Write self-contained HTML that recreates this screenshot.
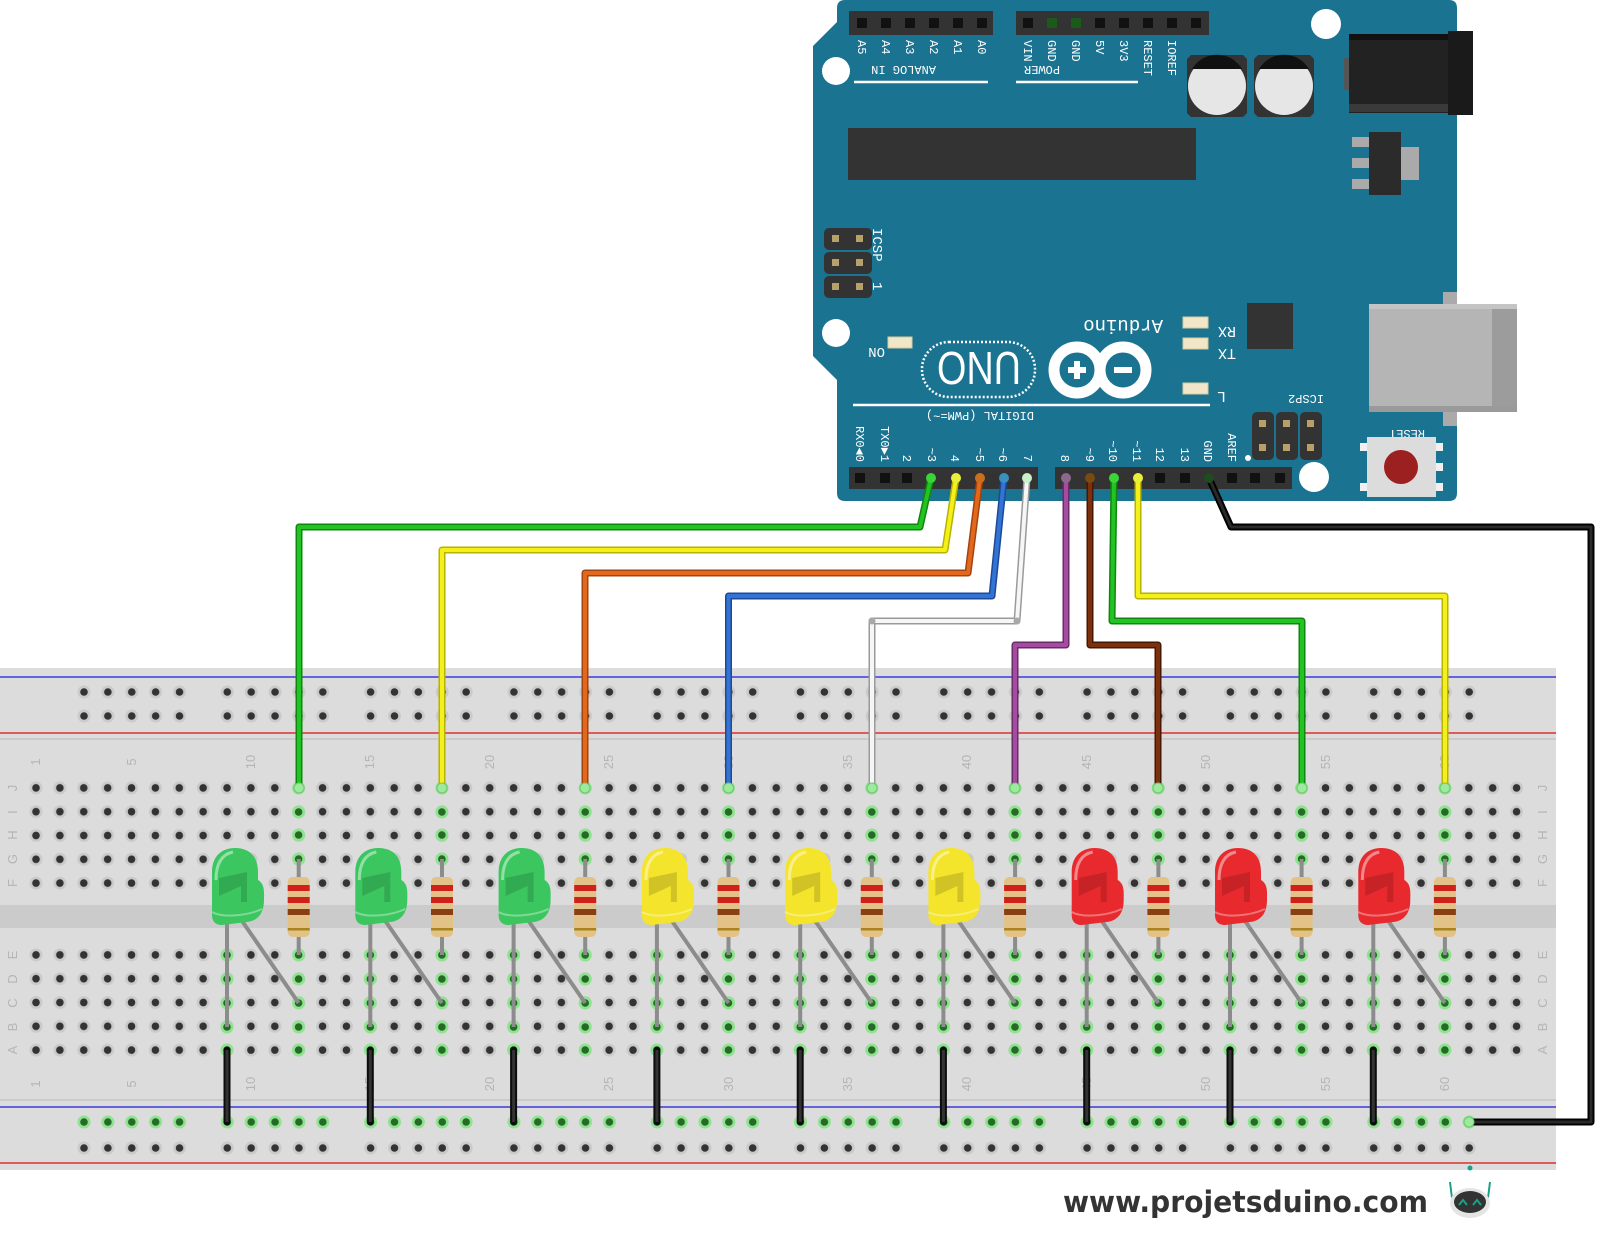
<!DOCTYPE html>
<html><head><meta charset="utf-8"><style>
html,body{margin:0;padding:0;background:#fff;}
svg{display:block;}
.bt{font-family:"Liberation Mono",monospace;fill:#fff;font-size:12px;}
.num{font-family:"Liberation Sans",sans-serif;fill:#b5b5b5;font-size:13px;}
</style></head><body>
<svg width="1600" height="1233" viewBox="0 0 1600 1233" xmlns="http://www.w3.org/2000/svg">
<defs>
 <pattern id="ph1" x="24.06" y="776" width="23.88" height="23.8" patternUnits="userSpaceOnUse">
  <circle cx="11.94" cy="11.9" r="6.5" fill="#cacaca"/><circle cx="11.94" cy="11.9" r="3.8" fill="#333"/>
 </pattern>
 <pattern id="ph2" x="24.06" y="943" width="23.88" height="23.8" patternUnits="userSpaceOnUse">
  <circle cx="11.94" cy="11.9" r="6.5" fill="#cacaca"/><circle cx="11.94" cy="11.9" r="3.8" fill="#333"/>
 </pattern>
 <pattern id="rail" x="72" y="680" width="143.3" height="24" patternUnits="userSpaceOnUse">
  <g fill="#cacaca"><circle cx="12" cy="12" r="6.5"/><circle cx="35.88" cy="12" r="6.5"/><circle cx="59.76" cy="12" r="6.5"/><circle cx="83.64" cy="12" r="6.5"/><circle cx="107.52" cy="12" r="6.5"/></g>
  <g fill="#333"><circle cx="12" cy="12" r="3.8"/><circle cx="35.88" cy="12" r="3.8"/><circle cx="59.76" cy="12" r="3.8"/><circle cx="83.64" cy="12" r="3.8"/><circle cx="107.52" cy="12" r="3.8"/></g>
 </pattern>
 <pattern id="railg" x="72" y="1110" width="143.3" height="24" patternUnits="userSpaceOnUse">
  <g fill="#8fe28f"><circle cx="12" cy="12" r="6.5"/><circle cx="35.88" cy="12" r="6.5"/><circle cx="59.76" cy="12" r="6.5"/><circle cx="83.64" cy="12" r="6.5"/><circle cx="107.52" cy="12" r="6.5"/></g>
  <g fill="#256b25"><circle cx="12" cy="12" r="3.8"/><circle cx="35.88" cy="12" r="3.8"/><circle cx="59.76" cy="12" r="3.8"/><circle cx="83.64" cy="12" r="3.8"/><circle cx="107.52" cy="12" r="3.8"/></g>
 </pattern>
 <g id="gh"><circle r="6.5" fill="#8fe28f"/><circle r="3.8" fill="#256b25"/></g>
 <g id="ghs">
  <use href="#gh" x="0" y="955"/><use href="#gh" x="0" y="979"/><use href="#gh" x="0" y="1003"/><use href="#gh" x="0" y="1027"/><use href="#gh" x="0" y="1050"/>
  <use href="#gh" x="71.6" y="955"/><use href="#gh" x="71.6" y="979"/><use href="#gh" x="71.6" y="1003"/><use href="#gh" x="71.6" y="1027"/><use href="#gh" x="71.6" y="1050"/>
  <use href="#gh" x="71.6" y="788"/><use href="#gh" x="71.6" y="812"/><use href="#gh" x="71.6" y="835"/><use href="#gh" x="71.6" y="859"/><use href="#gh" x="71.6" y="883"/>
 </g>
 <g id="led">
  <line x1="0" y1="918" x2="0" y2="1027" stroke="#8c8c8c" stroke-width="4"/>
  <line x1="13" y1="918" x2="71.6" y2="1003" stroke="#8c8c8c" stroke-width="4"/>
  <path d="M-15,915 L-15,872 C-15,856 -5,848 8,848 C22,848 31,856 31,872 L31,880 C38,884 37,892 37,900 C37,914 30,921 20,922 L-5,925 C-12,925 -15,921 -15,915Z"/>
  <path d="M-8,878 L20,872 L20,902 L14,902 L14,886 L-8,896Z" fill="rgba(0,0,0,0.14)"/>
  <path d="M-11,880 C-11,862 -4,854 6,852" stroke="rgba(255,255,255,0.45)" stroke-width="3" fill="none"/>
  <path d="M-15,912 C-5,918 20,916 35,909" stroke="rgba(255,255,255,0.35)" stroke-width="2" fill="none"/>
 </g>
 <g id="res">
  <line x1="0" y1="859" x2="0" y2="955" stroke="#8c8c8c" stroke-width="4"/>
  <rect x="-11" y="877" width="22" height="60" rx="5" fill="#e2c286"/>
  <rect x="-11" y="885" width="22" height="6" fill="#d0201c"/>
  <rect x="-11" y="897" width="22" height="6" fill="#d0201c"/>
  <rect x="-11" y="909" width="22" height="6" fill="#8a3f12"/>
  <rect x="-11" y="928" width="22" height="2.5" fill="#a88420"/>
 </g>
 <g id="gw"><line x1="0" y1="1050" x2="0" y2="1122" stroke="#0c0c0c" stroke-width="7" stroke-linecap="round"/><line x1="0" y1="1050" x2="0" y2="1122" stroke="#333" stroke-width="3"/></g>
</defs>

<!-- breadboard -->
<rect x="0" y="668" width="1556" height="502" fill="#dcdcdc"/>
<rect x="0" y="905" width="1556" height="23" fill="#cbcbcb"/>
<line x1="0" y1="677" x2="1556" y2="677" stroke="#3b3bd8" stroke-width="1.5"/>
<line x1="0" y1="733" x2="1556" y2="733" stroke="#e03030" stroke-width="1.5"/>
<line x1="0" y1="739" x2="1556" y2="739" stroke="#c4c4c4" stroke-width="1.5"/>
<line x1="0" y1="1100" x2="1556" y2="1100" stroke="#c4c4c4" stroke-width="1.5"/>
<line x1="0" y1="1107" x2="1556" y2="1107" stroke="#3b3bd8" stroke-width="1.5"/>
<line x1="0" y1="1163" x2="1556" y2="1163" stroke="#e03030" stroke-width="1.5"/>
<rect x="72" y="680" width="1405" height="48" fill="url(#rail)"/>
<rect x="72" y="1110" width="1405" height="24" fill="url(#railg)"/>
<rect x="72" y="1134" width="1405" height="24" fill="url(#rail)"/>
<rect x="24" y="776" width="1505" height="119" fill="url(#ph1)"/>
<rect x="24" y="943" width="1505" height="119" fill="url(#ph2)"/>

<!-- letters -->
<g class="num" text-anchor="middle">
 <text transform="translate(17,788) rotate(-90)">J</text><text transform="translate(17,812) rotate(-90)">I</text><text transform="translate(17,835) rotate(-90)">H</text><text transform="translate(17,859) rotate(-90)">G</text><text transform="translate(17,883) rotate(-90)">F</text>
 <text transform="translate(17,955) rotate(-90)">E</text><text transform="translate(17,979) rotate(-90)">D</text><text transform="translate(17,1003) rotate(-90)">C</text><text transform="translate(17,1027) rotate(-90)">B</text><text transform="translate(17,1050) rotate(-90)">A</text>
 <text transform="translate(1547,788) rotate(-90)">J</text><text transform="translate(1547,812) rotate(-90)">I</text><text transform="translate(1547,835) rotate(-90)">H</text><text transform="translate(1547,859) rotate(-90)">G</text><text transform="translate(1547,883) rotate(-90)">F</text>
 <text transform="translate(1547,955) rotate(-90)">E</text><text transform="translate(1547,979) rotate(-90)">D</text><text transform="translate(1547,1003) rotate(-90)">C</text><text transform="translate(1547,1027) rotate(-90)">B</text><text transform="translate(1547,1050) rotate(-90)">A</text>
 <text transform="translate(40,762) rotate(-90)">1</text><text transform="translate(136,762) rotate(-90)">5</text><text transform="translate(255,762) rotate(-90)">10</text><text transform="translate(374,762) rotate(-90)">15</text><text transform="translate(494,762) rotate(-90)">20</text><text transform="translate(613,762) rotate(-90)">25</text><text transform="translate(733,762) rotate(-90)">30</text><text transform="translate(852,762) rotate(-90)">35</text><text transform="translate(971,762) rotate(-90)">40</text><text transform="translate(1091,762) rotate(-90)">45</text><text transform="translate(1210,762) rotate(-90)">50</text><text transform="translate(1330,762) rotate(-90)">55</text><text transform="translate(1449,762) rotate(-90)">60</text>
 <text transform="translate(40,1084) rotate(-90)">1</text><text transform="translate(136,1084) rotate(-90)">5</text><text transform="translate(255,1084) rotate(-90)">10</text><text transform="translate(374,1084) rotate(-90)">15</text><text transform="translate(494,1084) rotate(-90)">20</text><text transform="translate(613,1084) rotate(-90)">25</text><text transform="translate(733,1084) rotate(-90)">30</text><text transform="translate(852,1084) rotate(-90)">35</text><text transform="translate(971,1084) rotate(-90)">40</text><text transform="translate(1091,1084) rotate(-90)">45</text><text transform="translate(1210,1084) rotate(-90)">50</text><text transform="translate(1330,1084) rotate(-90)">55</text><text transform="translate(1449,1084) rotate(-90)">60</text>
</g>

<use href="#ghs" x="227"/><use href="#ghs" x="370.3"/><use href="#ghs" x="513.6"/><use href="#ghs" x="656.9"/><use href="#ghs" x="800.2"/><use href="#ghs" x="943.4"/><use href="#ghs" x="1086.7"/><use href="#ghs" x="1230"/><use href="#ghs" x="1373.3"/>

<use href="#gw" x="227"/><use href="#gw" x="370.3"/><use href="#gw" x="513.6"/><use href="#gw" x="656.9"/><use href="#gw" x="800.2"/><use href="#gw" x="943.4"/><use href="#gw" x="1086.7"/><use href="#gw" x="1230"/><use href="#gw" x="1373.3"/>

<use href="#res" x="298.7"/><use href="#res" x="442"/><use href="#res" x="585.2"/><use href="#res" x="728.5"/><use href="#res" x="871.8"/><use href="#res" x="1015.1"/><use href="#res" x="1158.4"/><use href="#res" x="1301.6"/><use href="#res" x="1444.9"/>

<use href="#led" x="227" fill="#3bc65f"/><use href="#led" x="370.3" fill="#3bc65f"/><use href="#led" x="513.6" fill="#3bc65f"/>
<use href="#led" x="656.9" fill="#f4e42c"/><use href="#led" x="800.2" fill="#f4e42c"/><use href="#led" x="943.4" fill="#f4e42c"/>
<use href="#led" x="1086.7" fill="#e8292d"/><use href="#led" x="1230" fill="#e8292d"/><use href="#led" x="1373.3" fill="#e8292d"/>

<!-- Arduino board -->
<path d="M845,0 L1449,0 Q1457,0 1457,8 L1457,493 Q1457,501 1449,501 L845,501 Q837,501 837,493 L837,380 L813,356 L813,46 L837,22 L837,8 Q837,0 845,0Z" fill="#1a7391"/>
<rect x="849" y="11" width="144" height="24" fill="#333"/>
<g fill="#111"><rect x="857" y="18" width="10" height="10"/><rect x="881" y="18" width="10" height="10"/><rect x="905" y="18" width="10" height="10"/><rect x="929" y="18" width="10" height="10"/><rect x="953" y="18" width="10" height="10"/><rect x="977" y="18" width="10" height="10"/></g>
<rect x="1016" y="11" width="193" height="24" fill="#333"/>
<g fill="#111"><rect x="1023" y="18" width="10" height="10"/><rect x="1047" y="18" width="10" height="10" fill="#1c5a1c"/><rect x="1071" y="18" width="10" height="10" fill="#1c5a1c"/><rect x="1095" y="18" width="10" height="10"/><rect x="1119" y="18" width="10" height="10"/><rect x="1143" y="18" width="10" height="10"/><rect x="1167" y="18" width="10" height="10"/><rect x="1191" y="18" width="10" height="10"/></g>
<g class="bt" font-size="11">
 <text transform="translate(858,40) rotate(90)">A5</text><text transform="translate(882,40) rotate(90)">A4</text><text transform="translate(906,40) rotate(90)">A3</text><text transform="translate(930,40) rotate(90)">A2</text><text transform="translate(954,40) rotate(90)">A1</text><text transform="translate(978,40) rotate(90)">A0</text>
 <text transform="translate(1024,40) rotate(90)">VIN</text><text transform="translate(1048,40) rotate(90)">GND</text><text transform="translate(1072,40) rotate(90)">GND</text><text transform="translate(1096,40) rotate(90)">5V</text><text transform="translate(1120,40) rotate(90)">3V3</text><text transform="translate(1144,40) rotate(90)">RESET</text><text transform="translate(1168,40) rotate(90)">IOREF</text>
 <text transform="translate(936,66) rotate(180)">ANALOG IN</text>
 <text transform="translate(1060,66) rotate(180)">POWER</text>
 <text transform="translate(1034,412) rotate(180)">DIGITAL (PWM=~)</text>
 <text transform="translate(1324,395) rotate(180)">ICSP2</text>
 <text transform="translate(1425,430) rotate(180)">RESET</text>
 <text transform="translate(1163,320) rotate(180)" font-size="19">Arduino</text>
 <text transform="translate(1236,327) rotate(180)" font-size="15">RX</text>
 <text transform="translate(1236,349) rotate(180)" font-size="15">TX</text>
 <text transform="translate(1226,392) rotate(180)" font-size="15">L</text>
 <text transform="translate(885,348) rotate(180)" font-size="14">ON</text>
 <text transform="translate(873,228) rotate(90)" font-size="14">ICSP</text>
 <text transform="translate(873,282) rotate(90)" font-size="14">1</text>
</g>
<line x1="854" y1="82" x2="988" y2="82" stroke="#fff" stroke-width="2.5"/>
<line x1="1016" y1="82" x2="1138" y2="82" stroke="#fff" stroke-width="2.5"/>
<line x1="853" y1="405" x2="1210" y2="405" stroke="#fff" stroke-width="2.5"/>
<g fill="#fff"><circle cx="1326" cy="24" r="15"/><circle cx="836" cy="71" r="14"/><circle cx="836" cy="333" r="14"/><circle cx="1314" cy="477" r="15"/></g>
<g>
 <path d="M1191,55 L1243,55 L1247,59 L1247,113 L1243,117 L1191,117 L1187,113 L1187,59Z" fill="#333"/>
 <circle cx="1217" cy="86" r="29" fill="#e6e6e6"/><path d="M1192,69 A29,29 0 0 1 1242,69Z" fill="#111"/>
 <path d="M1258,55 L1310,55 L1314,59 L1314,113 L1310,117 L1258,117 L1254,113 L1254,59Z" fill="#333"/>
 <circle cx="1284" cy="86" r="29" fill="#e6e6e6"/><path d="M1259,69 A29,29 0 0 1 1309,69Z" fill="#111"/>
</g>
<rect x="1349" y="34" width="100" height="79" fill="#222"/>
<rect x="1349" y="34" width="100" height="6" fill="#111"/>
<rect x="1349" y="104" width="100" height="8" fill="#3a3a3a"/>
<rect x="1448" y="31" width="25" height="84" fill="#1a1a1a"/>
<rect x="1344" y="58" width="5" height="32" fill="#555"/>
<rect x="848" y="128" width="348" height="52" fill="#333"/>
<g fill="#aaa"><rect x="1352" y="137" width="17" height="10"/><rect x="1352" y="158" width="17" height="10"/><rect x="1352" y="179" width="17" height="10"/><rect x="1401" y="147" width="18" height="33"/></g>
<rect x="1369" y="132" width="32" height="63" fill="#2b2b2b"/>
<g fill="#333"><rect x="824" y="228" width="48" height="22" rx="5"/><rect x="824" y="252" width="48" height="22" rx="5"/><rect x="824" y="276" width="48" height="22" rx="5"/></g>
<g fill="#b8a06a"><rect x="832" y="235" width="7" height="7"/><rect x="856" y="235" width="7" height="7"/><rect x="832" y="259" width="7" height="7"/><rect x="856" y="259" width="7" height="7"/><rect x="832" y="283" width="7" height="7"/><rect x="856" y="283" width="7" height="7"/></g>
<g fill="#333"><rect x="1252" y="412" width="22" height="48" rx="5"/><rect x="1276" y="412" width="22" height="48" rx="5"/><rect x="1300" y="412" width="22" height="48" rx="5"/></g>
<g fill="#b8a06a"><rect x="1259" y="420" width="7" height="7"/><rect x="1283" y="420" width="7" height="7"/><rect x="1307" y="420" width="7" height="7"/><rect x="1259" y="444" width="7" height="7"/><rect x="1283" y="444" width="7" height="7"/><rect x="1307" y="444" width="7" height="7"/></g>
<circle cx="1248" cy="458" r="3" fill="#fff"/>
<rect x="1443" y="292" width="14" height="134" fill="#aaa"/>
<rect x="1369" y="304" width="148" height="108" fill="#b5b5b5"/>
<rect x="1492" y="304" width="25" height="108" fill="#9c9c9c"/>
<rect x="1369" y="304" width="148" height="5" fill="#c4c4c4"/>
<rect x="1369" y="406" width="148" height="6" fill="#9a9a9a"/>
<rect x="1247" y="303" width="46" height="46" fill="#333"/>
<g fill="#f1e7c8" stroke="#d9c89a" stroke-width="1"><rect x="1183" y="317" width="25" height="11"/><rect x="1183" y="338" width="25" height="11"/><rect x="1183" y="383" width="25" height="11"/><rect x="888" y="337" width="24" height="11"/></g>
<!-- UNO -->
<rect x="922" y="342" width="113" height="55" rx="27" fill="none" stroke="#fff" stroke-width="2.5" stroke-dasharray="2 2"/>
<text transform="translate(1021,352) rotate(180)" font-family="Liberation Sans,sans-serif" font-size="46" fill="#fff" textLength="84" lengthAdjust="spacingAndGlyphs">UNO</text>
<!-- infinity -->
<circle cx="1077" cy="370" r="23" fill="none" stroke="#fff" stroke-width="11"/>
<circle cx="1123" cy="370" r="23" fill="none" stroke="#fff" stroke-width="11"/>
<rect x="1068" y="367" width="18" height="6" fill="#fff"/><rect x="1074" y="361" width="6" height="18" fill="#fff"/>
<rect x="1114" y="367" width="18" height="6" fill="#fff"/>
<rect x="849" y="467" width="189" height="22" fill="#333"/>
<rect x="1055" y="467" width="237" height="22" fill="#333"/>
<g fill="#111"><rect x="855" y="473" width="10" height="10"/><rect x="880" y="473" width="10" height="10"/><rect x="902" y="473" width="10" height="10"/><rect x="1155" y="473" width="10" height="10"/><rect x="1180" y="473" width="10" height="10"/><rect x="1227" y="473" width="10" height="10"/><rect x="1250" y="473" width="10" height="10"/><rect x="1275" y="473" width="10" height="10"/></g>
<g class="bt" font-size="11" text-anchor="end">
 <text transform="translate(856,462) rotate(90)">RX0◄0</text><text transform="translate(881,462) rotate(90)">TX0►1</text><text transform="translate(903,462) rotate(90)">2</text><text transform="translate(928,462) rotate(90)">~3</text><text transform="translate(951,462) rotate(90)">4</text><text transform="translate(976,462) rotate(90)">~5</text><text transform="translate(999,462) rotate(90)">~6</text><text transform="translate(1024,462) rotate(90)">7</text>
 <text transform="translate(1061,462) rotate(90)">8</text><text transform="translate(1086,462) rotate(90)">~9</text><text transform="translate(1109,462) rotate(90)">~10</text><text transform="translate(1133,462) rotate(90)">~11</text><text transform="translate(1156,462) rotate(90)">12</text><text transform="translate(1181,462) rotate(90)">13</text><text transform="translate(1204,462) rotate(90)">GND</text><text transform="translate(1228,462) rotate(90)">AREF</text>
</g>
<g fill="#f0f0f0"><rect x="1360" y="443" width="8" height="8"/><rect x="1360" y="483" width="8" height="8"/><rect x="1435" y="443" width="8" height="8"/><rect x="1435" y="463" width="8" height="8"/><rect x="1435" y="483" width="8" height="8"/></g>
<rect x="1367" y="437" width="69" height="60" fill="#dcdcdc"/>
<circle cx="1401" cy="467" r="17" fill="#9c2020"/>

<!-- wires -->
<g fill="none" stroke-linejoin="round" stroke-linecap="round">
 <path d="M931,478 L920,527 L299,527 L299,788" stroke="#0f870f" stroke-width="7"/><path d="M931,478 L920,527 L299,527 L299,788" stroke="#22c322" stroke-width="4"/>
 <path d="M956,478 L945,550 L442,550 L442,788" stroke="#b8b200" stroke-width="7"/><path d="M956,478 L945,550 L442,550 L442,788" stroke="#f4f01a" stroke-width="4"/>
 <path d="M980,478 L968,573 L585,573 L585,788" stroke="#a04510" stroke-width="7"/><path d="M980,478 L968,573 L585,573 L585,788" stroke="#e3681c" stroke-width="4"/>
 <path d="M1004,478 L992,596 L728.5,596 L728.5,788" stroke="#1c4a98" stroke-width="7"/><path d="M1004,478 L992,596 L728.5,596 L728.5,788" stroke="#3273d3" stroke-width="4"/>
 <path d="M1027,478 L1017,621 L872,621 L872,788" stroke="#9a9a9a" stroke-width="7"/><path d="M1027,478 L1017,621 L872,621 L872,788" stroke="#f6f6f6" stroke-width="4"/>
 <path d="M1066,478 L1066,645 L1015,645 L1015,788" stroke="#6b2a69" stroke-width="7"/><path d="M1066,478 L1066,645 L1015,645 L1015,788" stroke="#a34ca0" stroke-width="4"/>
 <path d="M1090,478 L1090,645 L1158,645 L1158,788" stroke="#461804" stroke-width="7"/><path d="M1090,478 L1090,645 L1158,645 L1158,788" stroke="#7d300e" stroke-width="4"/>
 <path d="M1114,478 L1112,621 L1302,621 L1302,788" stroke="#0f870f" stroke-width="7"/><path d="M1114,478 L1112,621 L1302,621 L1302,788" stroke="#22c322" stroke-width="4"/>
 <path d="M1138,478 L1138,596 L1445,596 L1445,788" stroke="#b8b200" stroke-width="7"/><path d="M1138,478 L1138,596 L1445,596 L1445,788" stroke="#f4f01a" stroke-width="4"/>
 <path d="M1209,478 L1231,527 L1591,527 L1591,1122 L1469,1122" stroke="#000" stroke-width="7"/><path d="M1209,478 L1231,527 L1591,527 L1591,1122 L1469,1122" stroke="#2a2a2a" stroke-width="3"/>
</g>
<g>
 <circle cx="931" cy="478" r="5" fill="#3ad33a"/><circle cx="956" cy="478" r="5" fill="#e8ef3a"/><circle cx="980" cy="478" r="5" fill="#c87020"/><circle cx="1004" cy="478" r="5" fill="#3a90c0"/><circle cx="1027" cy="478" r="5" fill="#c9f0c9"/>
 <circle cx="1066" cy="478" r="5" fill="#8a6a8a"/><circle cx="1090" cy="478" r="5" fill="#7a4a10"/><circle cx="1114" cy="478" r="5" fill="#3ad33a"/><circle cx="1138" cy="478" r="5" fill="#e8ef3a"/><circle cx="1209" cy="478" r="5" fill="#1d4d1d"/>
 <g fill="#9fe89f" stroke="#6cc86c"><circle cx="299" cy="788" r="5"/><circle cx="442" cy="788" r="5"/><circle cx="585" cy="788" r="5"/><circle cx="728.5" cy="788" r="5"/><circle cx="872" cy="788" r="5"/><circle cx="1015" cy="788" r="5"/><circle cx="1158" cy="788" r="5"/><circle cx="1302" cy="788" r="5"/><circle cx="1445" cy="788" r="5"/><circle cx="1469" cy="1122" r="5"/></g>
 <g fill="#a8a8a8"><circle cx="872" cy="621" r="3.5"/><circle cx="1017" cy="621" r="3.5"/></g>
</g>

<text x="1063" y="1212" font-family="DejaVu Sans,Liberation Sans,sans-serif" font-weight="bold" font-size="29" fill="#333" textLength="365" lengthAdjust="spacingAndGlyphs">www.projetsduino.com</text>
<g>
 <circle cx="1470" cy="1168" r="2.5" fill="#1aa088"/>
 <line x1="1450" y1="1182" x2="1452" y2="1198" stroke="#1aa088" stroke-width="2"/>
 <line x1="1490" y1="1182" x2="1488" y2="1198" stroke="#1aa088" stroke-width="2"/>
 <ellipse cx="1470" cy="1203" rx="20" ry="15" fill="#e4e4e4"/>
 <ellipse cx="1470" cy="1202" rx="16" ry="11" fill="#333"/>
 <path d="M1459,1205 L1463,1200 L1467,1205 M1473,1205 L1477,1200 L1481,1205" stroke="#1aa088" stroke-width="2" fill="none"/>
</g>
</svg>
</body></html>
